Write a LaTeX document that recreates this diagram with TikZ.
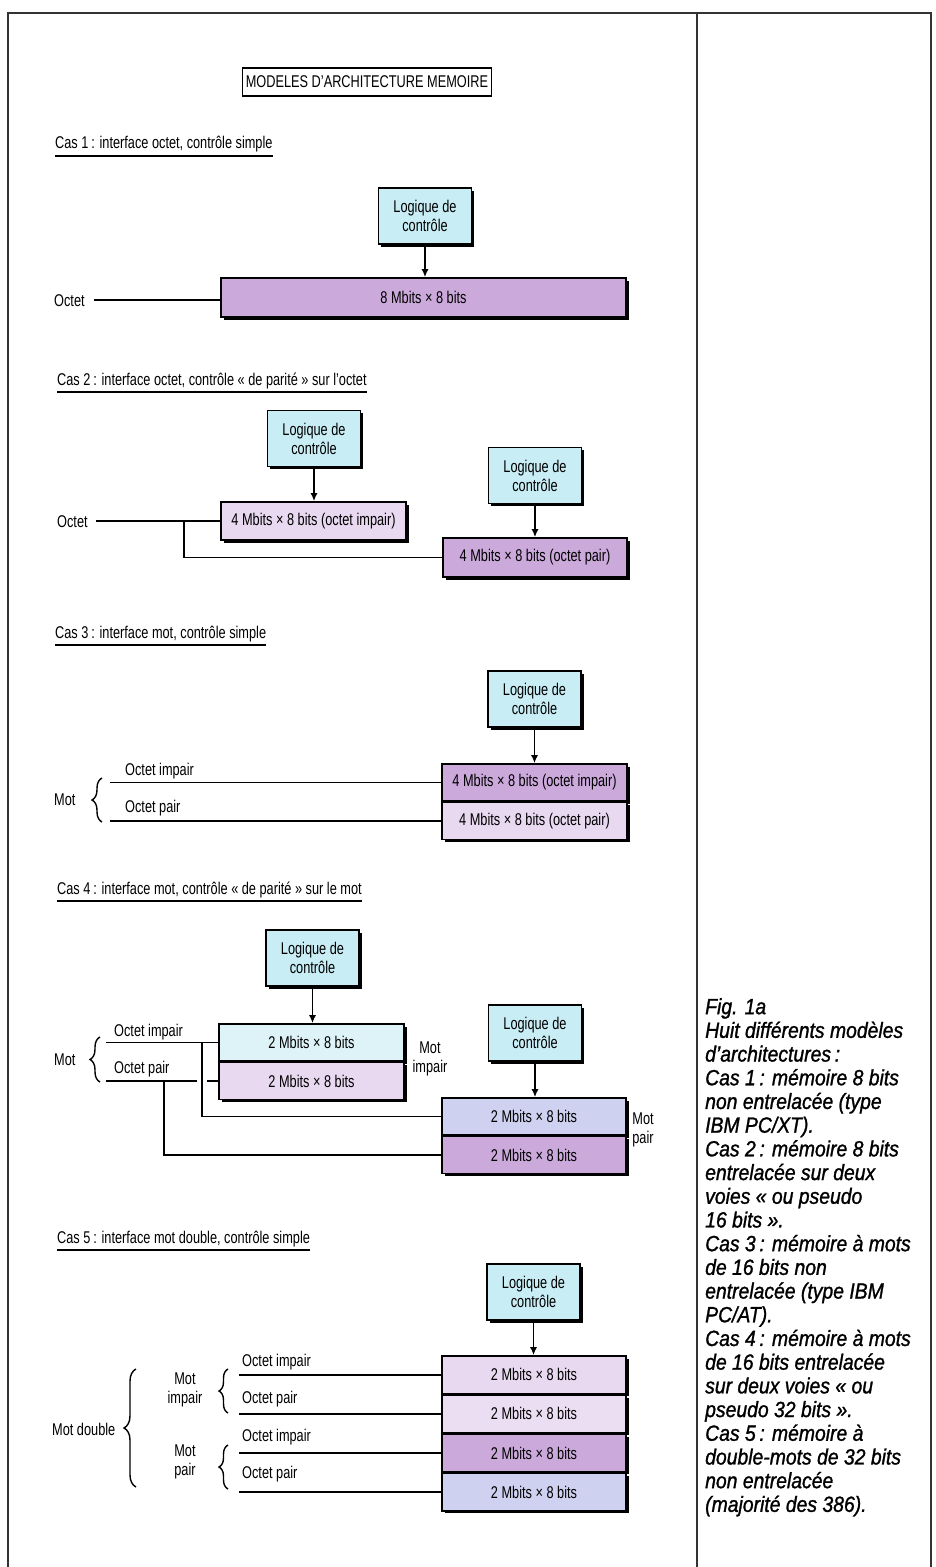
\documentclass[tikz,border=0pt]{standalone}
\usepackage{fontspec}
\setmainfont{Liberation Sans}[FakeStretch=0.75]
\newfontfamily\legende{Liberation Sans}[FakeStretch=0.88, FakeBold=1.2]
\usetikzlibrary{arrows.meta,shadows,decorations.pathreplacing}

\definecolor{cyanlog}{HTML}{C9EDF5}
\definecolor{cyanclair}{HTML}{DDF3F8}
\definecolor{lavclair}{HTML}{E8D8F0}
\definecolor{lavfonce}{HTML}{CBA9DB}
\definecolor{pervenche}{HTML}{CFD1F0}

\tikzset{
    ombre/.style={drop shadow={shadow xshift=2.5bp, shadow yshift=-2.5bp, opacity=1, fill=black}},
    logique/.style={draw, line width=1.6bp, fill=cyanlog, minimum width=93bp, minimum height=56bp, inner sep=0pt, align=center, ombre},
    memoire/.style={draw, line width=1.6bp, minimum width=185bp, minimum height=37bp, inner sep=0pt, ombre},
    titre/.style={draw, line width=1.3bp, minimum width=249bp, minimum height=28bp, inner sep=0pt},
    cas/.style={anchor=base west, inner xsep=0pt, inner ysep=3.5bp},
    texte/.style={anchor=base west, inner sep=0pt},
    fleche/.style={-{Latex[length=8bp,width=7bp]}, line width=1.6bp},
    fil/.style={line width=1.8bp},
    souligne/.style={line width=1.8bp},
    accolade/.style={decorate, decoration={brace, amplitude=#1}, line width=1.4bp},
    accolade/.default=10bp,
    cadre/.style={line width=1.2bp, draw=black!80},
}

\begin{document}
\begin{tikzpicture}[x=1bp, y=-1bp, every node/.style={font=\fontsize{17bp}{19bp}\selectfont}]

    \useasboundingbox (0,0) rectangle (935,1567);

    % cadre de la page
    \draw[cadre] (8,1567) -- (8,13) -- (931,13) -- (931,1567);
    \draw[cadre] (697,13) -- (697,1567);

    % titre
    \node[titre] (titre) at (367,82) {MODELES D’ARCHITECTURE MEMOIRE};

    % Cas 1
    \node[cas] (cas1) at (55,149) {Cas 1\,: interface octet, contrôle simple};
    \draw[souligne] (cas1.south west) -- (cas1.south east);
    \node[logique] (log1) at (425,216) {Logique de\\contrôle};
    \node[memoire, fill=lavfonce, minimum width=405bp, minimum height=39bp] (mem1) at (423.5,297.5) {8 Mbits × 8 bits};
    \draw[fleche] (log1.south) -- (log1.south |- mem1.north);
    \node[texte] (oct1) at (54,306) {Octet};
    \draw[fil] ([xshift=9bp]oct1.east) -- (oct1.east -| mem1.west);

    % Cas 2
    \node[cas] (cas2) at (57,385) {Cas 2\,: interface octet, contrôle « de parité » sur l’octet};
    \draw[souligne] (cas2.south west) -- (cas2.south east);
    \node[logique] (log2a) at (314,438.5) {Logique de\\contrôle};
    \node[memoire, fill=lavclair, minimum height=38bp] (mem2a) at (313.5,521) {4 Mbits × 8 bits (octet impair)};
    \draw[fleche] (log2a.south) -- (log2a.south |- mem2a.north);
    \node[logique] (log2b) at (535,475.5) {Logique de\\contrôle};
    \node[memoire, fill=lavfonce, minimum width=184bp, minimum height=39bp] (mem2b) at (535,557.5) {4 Mbits × 8 bits (octet pair)};
    \draw[fleche] (log2b.south) -- (log2b.south |- mem2b.north);
    \node[texte] (oct2) at (57,527) {Octet};
    \draw[fil] ([xshift=8bp]oct2.east) -- (oct2.east -| mem2a.west);
    \coordinate (br2) at (184,0 |- oct2.east);
    \draw[fil] (br2) |- (mem2b.west);

    % Cas 3
    \node[cas] (cas3) at (55,638) {Cas 3\,: interface mot, contrôle simple};
    \draw[souligne] (cas3.south west) -- (cas3.south east);
    \node[logique] (log3) at (534.5,699) {Logique de\\contrôle};
    \node[memoire, fill=lavfonce] (mem3a) at (534.5,782.5) {4 Mbits × 8 bits (octet impair)};
    \node[memoire, fill=lavclair, anchor=north] (mem3b) at (mem3a.south) {4 Mbits × 8 bits (octet pair)};
    \draw[fleche] (log3.south) -- (log3.south |- mem3a.north);
    \coordinate (g3a) at (110,0 |- mem3a.west);
    \coordinate (g3b) at (110,0 |- mem3b.west);
    \draw[fil] (g3a) -- (mem3a.west);
    \draw[fil] (g3b) -- (mem3b.west);
    \node[texte] (oi3) at (125,775) {Octet impair};
    \node[texte] (op3) at (125,812) {Octet pair};
    \draw[accolade] (102,822) -- (102,778);
    \node[texte] (mot3) at (54,805) {Mot};

    % Cas 4
    \node[cas] (cas4) at (57,894) {Cas 4\,: interface mot, contrôle « de parité » sur le mot};
    \draw[souligne] (cas4.south west) -- (cas4.south east);
    \node[logique] (log4a) at (312.5,958) {Logique de\\contrôle};
    \node[memoire, fill=cyanclair] (mem4a) at (311.5,1042.5) {2 Mbits × 8 bits};
    \node[memoire, fill=lavclair, anchor=north] (mem4b) at (mem4a.south) {2 Mbits × 8 bits};
    \draw[fleche] (log4a.south) -- (log4a.south |- mem4a.north);
    \node[align=center, inner sep=0pt] (motimp4) at (430,1059) {Mot\\impair};
    \node[logique] (log4b) at (535,1033) {Logique de\\contrôle};
    \node[memoire, fill=pervenche, minimum width=184bp] (mem4c) at (534,1116.5) {2 Mbits × 8 bits};
    \node[memoire, fill=lavfonce, minimum width=184bp, anchor=north] (mem4d) at (mem4c.south) {2 Mbits × 8 bits};
    \draw[fleche] (log4b.south) -- (log4b.south |- mem4c.north);
    \node[align=center, inner sep=0pt] (motpair4) at (643,1130) {Mot\\pair};
    \coordinate (g4a) at (106,0 |- mem4a.west);
    \coordinate (g4b) at (106,0 |- mem4b.west);
    \draw[fil] (g4a) -- (mem4a.west);
    % saut du fil pair
    \coordinate (sautA) at (197,0 |- mem4b.west);
    \coordinate (sautB) at (207,0 |- mem4b.west);
    \draw[fil] (g4b) -- (sautA);
    \draw[fil] (sautB) -- (mem4b.west);
    \coordinate (br4a) at (202,0 |- mem4a.west);
    \coordinate (br4b) at (164,0 |- mem4b.west);
    \draw[fil] (br4a) |- (mem4c.west);
    \draw[fil] (br4b) |- (mem4d.west);
    \node[texte] (oi4) at (114,1036) {Octet impair};
    \node[texte] (op4) at (114,1073) {Octet pair};
    \draw[accolade] (100,1082) -- (100,1037);
    \node[texte] (mot4) at (54,1065) {Mot};

    % Cas 5
    \node[cas] (cas5) at (57,1243) {Cas 5\,: interface mot double, contrôle simple};
    \draw[souligne] (cas5.south west) -- (cas5.south east);
    \node[logique] (log5) at (533.5,1292) {Logique de\\contrôle};
    \node[memoire, fill=lavclair, minimum width=184bp, minimum height=37.5bp] (mem5a) at (534,1374.75) {2 Mbits × 8 bits};
    \node[memoire, fill=lavclair!85!white, minimum width=184bp, minimum height=37.5bp, anchor=north] (mem5b) at (mem5a.south) {2 Mbits × 8 bits};
    \node[memoire, fill=lavfonce, minimum width=184bp, minimum height=37.5bp, anchor=north] (mem5c) at (mem5b.south) {2 Mbits × 8 bits};
    \node[memoire, fill=pervenche, minimum width=184bp, minimum height=37.5bp, anchor=north] (mem5d) at (mem5c.south) {2 Mbits × 8 bits};
    \draw[fleche] (log5.south) -- (log5.south |- mem5a.north);
    \foreach \m in {a,b,c,d} {
        \coordinate (g5\m) at (239,0 |- mem5\m.west);
        \draw[fil] (g5\m) -- (mem5\m.west);
    }
    \node[texte] (oi5a) at (242,1366) {Octet impair};
    \node[texte] (op5a) at (242,1403) {Octet pair};
    \node[texte] (oi5b) at (242,1441) {Octet impair};
    \node[texte] (op5b) at (242,1478) {Octet pair};
    \draw[accolade=9bp] (228,1413) -- (228,1369);
    \draw[accolade=9bp] (228,1489) -- (228,1445);
    \node[align=center, inner sep=0pt] (motimp5) at (185,1390) {Mot\\impair};
    \node[align=center, inner sep=0pt] (motpair5) at (185,1462) {Mot\\pair};
    \draw[accolade=12bp] (136,1487) -- (136,1369);
    \node[texte] (motdbl5) at (52,1435) {Mot double};

    % legende
    \node[anchor=north west, inner sep=0pt, align=left, font=\legende\itshape\fontsize{22bp}{23.7bp}\selectfont] (legende) at (705,998)
        {Fig. 1a\\Huit différents modèles\\d’architectures\,:\\Cas 1\,: mémoire 8 bits\\non entrelacée (type\\IBM PC/XT).\\Cas 2\,: mémoire 8 bits\\entrelacée sur deux\\voies « ou pseudo\\16 bits ».\\Cas 3\,: mémoire à mots\\de 16 bits non\\entrelacée (type IBM\\PC/AT).\\Cas 4\,: mémoire à mots\\de 16 bits entrelacée\\sur deux voies « ou\\pseudo 32 bits ».\\Cas 5\,: mémoire à\\double-mots de 32 bits\\non entrelacée\\(majorité des 386).};

\end{tikzpicture}
\end{document}
